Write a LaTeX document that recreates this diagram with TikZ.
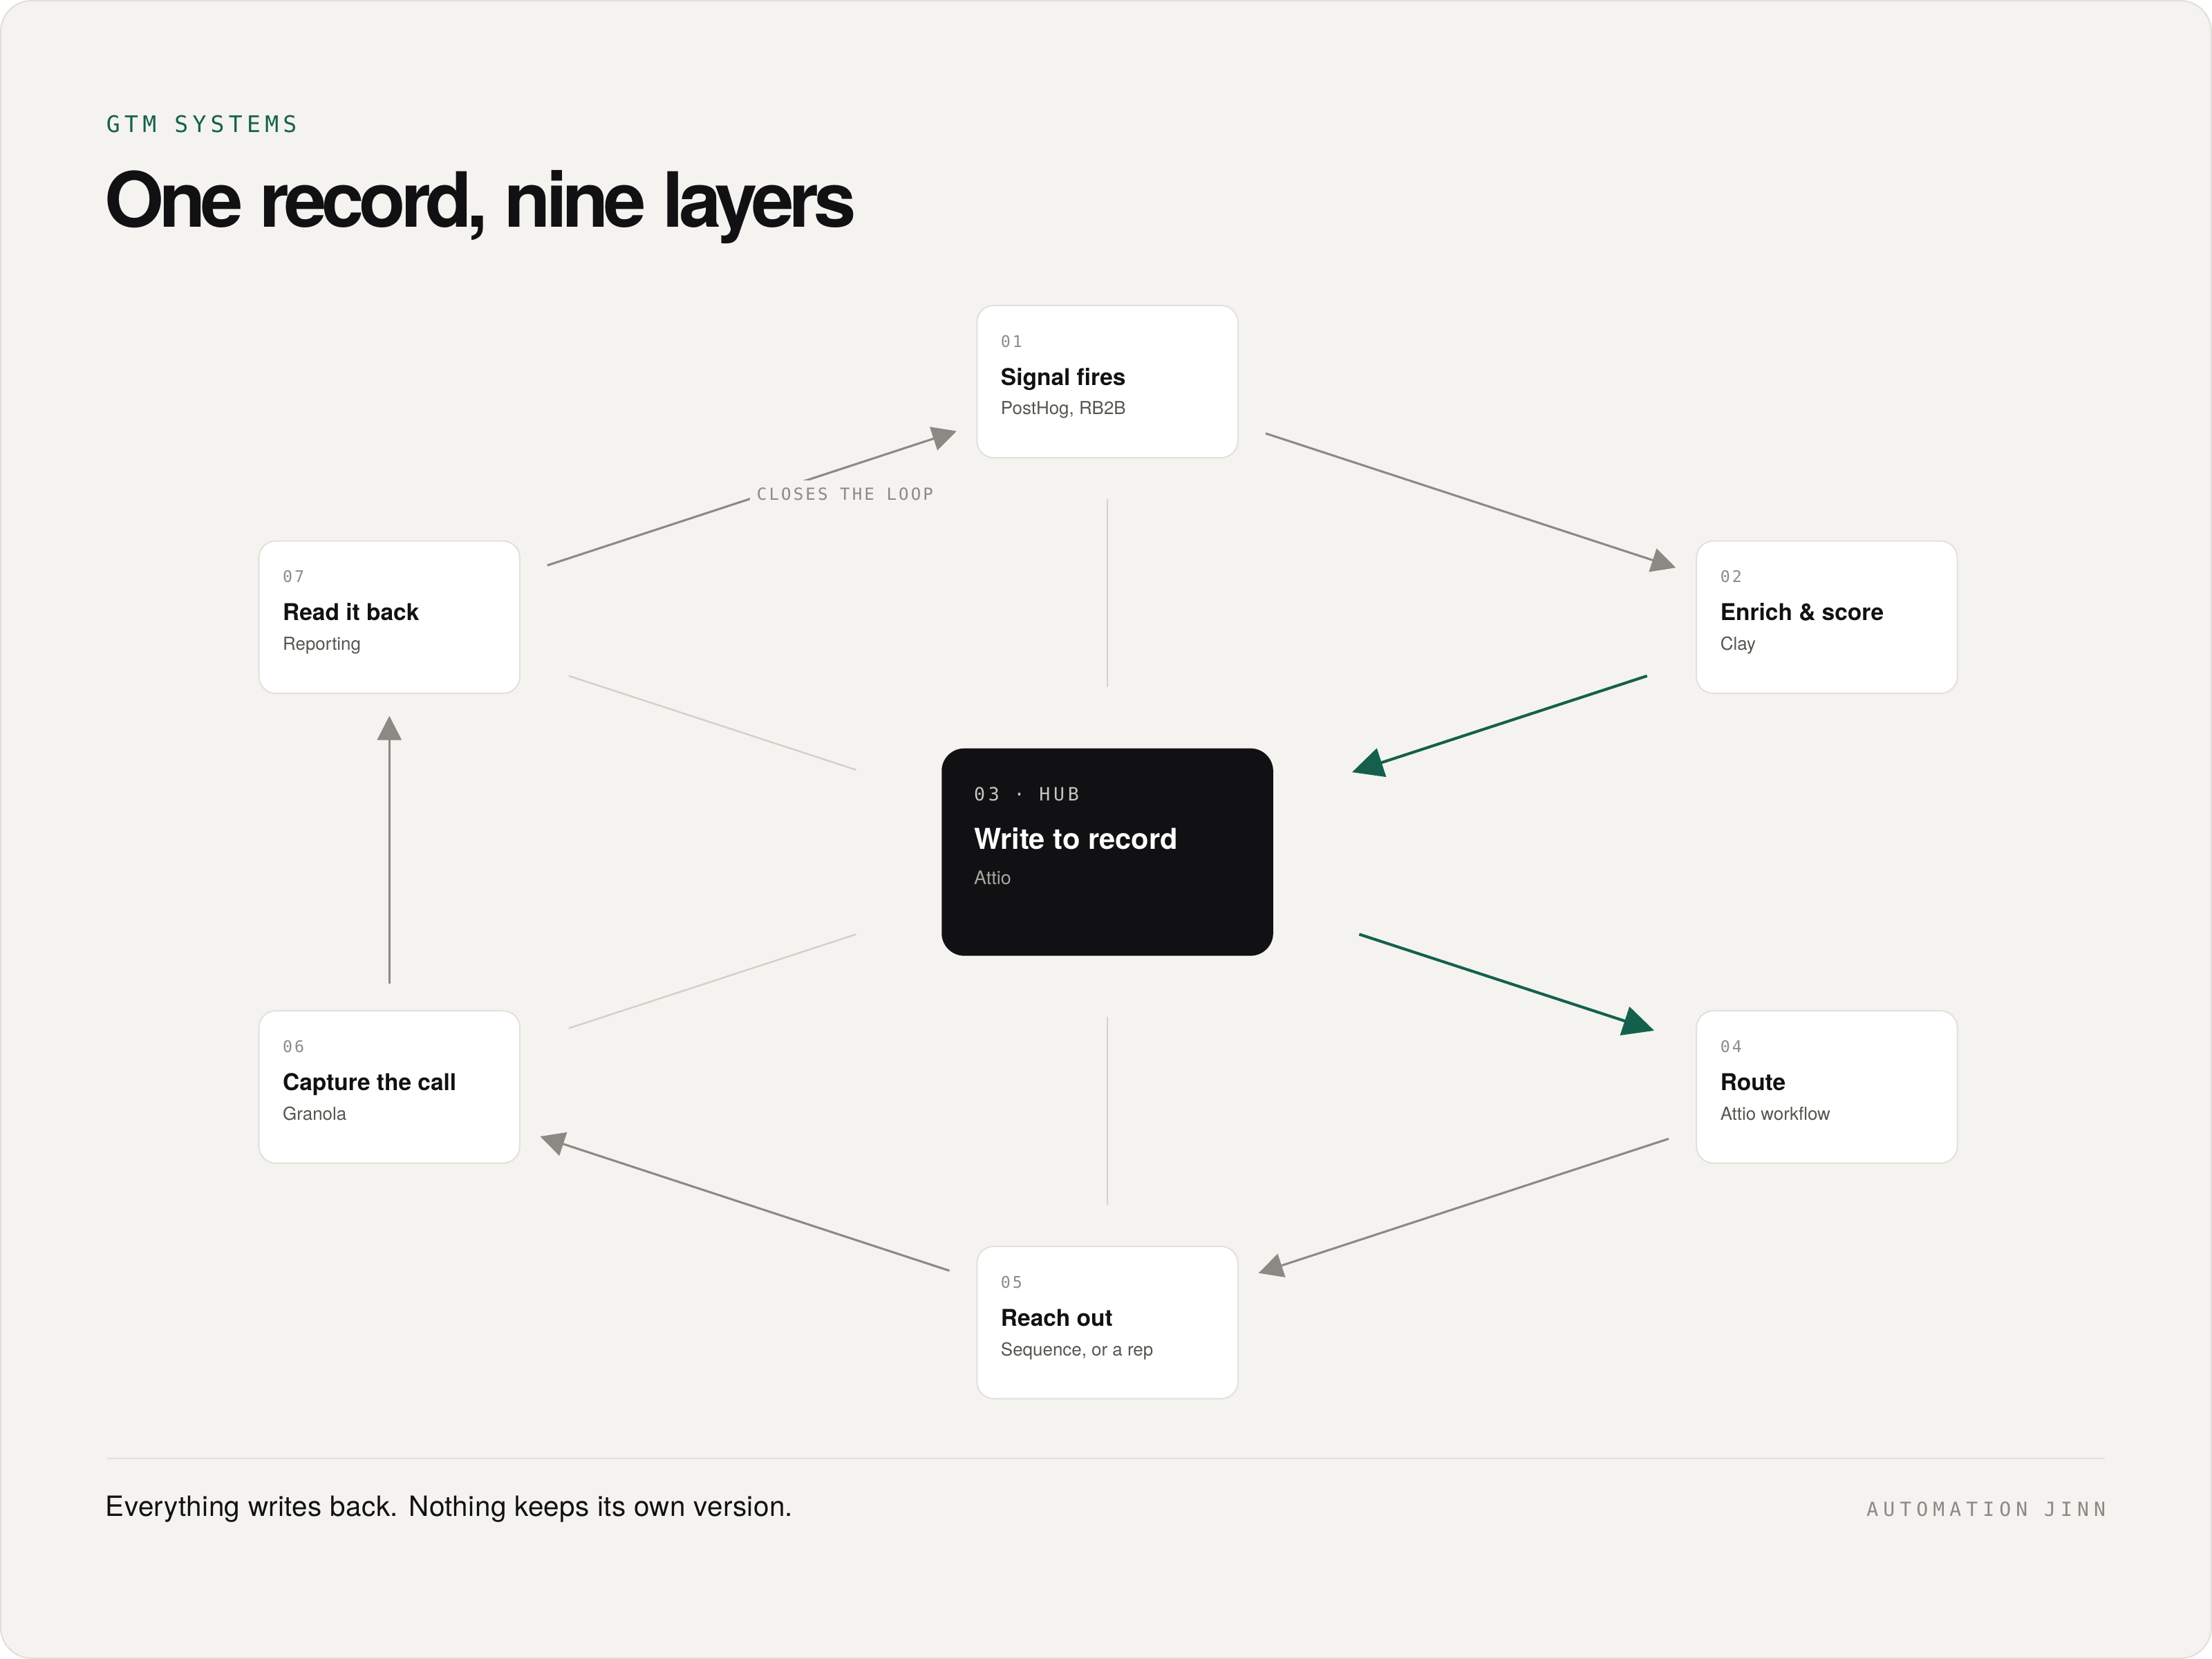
\documentclass[tikz,border=0pt]{standalone}
\usepackage{fontspec}
\setmainfont{TeX Gyre Heros}
\newfontfamily\titlefont[LetterSpace=-6.5]{TeX Gyre Heros}
\newfontfamily\bodyfont[LetterSpace=1]{TeX Gyre Heros}
\newfontfamily\monolab[LetterSpace=13]{DejaVu Sans Mono}
\newfontfamily\monohub[LetterSpace=18]{DejaVu Sans Mono}
\newfontfamily\monokick[LetterSpace=19]{DejaVu Sans Mono}
\newfontfamily\monofoot[LetterSpace=25]{DejaVu Sans Mono}
\usepackage{xcolor}
\usepackage{tikz}
\usetikzlibrary{shapes.multipart}
\usetikzlibrary{arrows.meta}
\usetikzlibrary{calc}

\definecolor{paper}{HTML}{F4F3EF}
\definecolor{frame}{HTML}{E0DFD9}
\definecolor{cardline}{HTML}{E3E1DB}
\definecolor{ink}{HTML}{111113}
\definecolor{subink}{HTML}{55554F}
\definecolor{numgrey}{HTML}{8C8B86}
\definecolor{flowgrey}{HTML}{8A8984}
\definecolor{spokegrey}{HTML}{D2D0C9}
\definecolor{gtmgreen}{HTML}{14604C}
\definecolor{hubfill}{HTML}{111113}
\definecolor{hubnum}{HTML}{C6C6C1}
\definecolor{hubsub}{HTML}{A6A6A1}

\newcommand{\numfont}{\monolab\fontsize{5.7pt}{7pt}\selectfont\color{numgrey}}
\newcommand{\headfont}{\fontsize{8.2pt}{10pt}\selectfont\bfseries\color{ink}}
\newcommand{\subfont}{\fontsize{6.35pt}{8pt}\selectfont\color{subink}}
\newcommand{\hubnumfont}{\monohub\fontsize{6.5pt}{8pt}\selectfont\color{hubnum}}
\newcommand{\hubheadfont}{\fontsize{10.2pt}{12pt}\selectfont\bfseries\color{white}}
\newcommand{\hubsubfont}{\fontsize{6.6pt}{8pt}\selectfont\color{hubsub}}

\begin{document}
\begin{tikzpicture}[x=0.5pt,y=-0.5pt,
    card/.style={rectangle split, rectangle split parts=3, rectangle split draw splits=false,
        draw=cardline, fill=white, line width=0.5pt, rounded corners=6pt,
        inner xsep=8.5pt, inner ysep=0pt, text width=75.5pt, align=flush left, anchor=north west},
    hub/.style={card, draw=none, fill=hubfill, rounded corners=8pt, inner xsep=11.5pt, text width=94.5pt},
    flow/.style={draw=flowgrey, line width=0.75pt, -{Triangle[length=8.6pt,width=8.6pt]}},
    hubflow/.style={draw=gtmgreen, line width=1pt, -{Triangle[length=11pt,width=10.5pt]}},
    spoke/.style={draw=spokegrey, line width=0.6pt},
    looplabel/.style={fill=paper, inner sep=2.5pt, text=flowgrey, font=\monolab\fontsize{5.9pt}{7pt}\selectfont}]
    \useasboundingbox (0,0) rectangle (1568,1176);
    \fill[white] (0,0) rectangle (1568,1176);
    \draw[draw=frame, fill=paper, line width=0.5pt, rounded corners=11pt] (0.5,0.5) rectangle (1567.5,1175.5);

    \node[anchor=base west, inner sep=0pt, text=gtmgreen] (kicker) at (75,94) {\monokick\fontsize{8.1pt}{10pt}\selectfont GTM SYSTEMS};
    \node[anchor=base west, inner sep=0pt, text=ink] (title) at (74,161) {\titlefont\bfseries\fontsize{27pt}{30pt}\selectfont One record, nine layers};

    \node[card] (n01) at (692,216) {\rule{0pt}{14.5pt}\smash{\numfont 01}
    \nodepart{two}\rule{0pt}{13pt}\smash{\headfont Signal fires}
    \nodepart{three}\rule[-15pt]{0pt}{25pt}\smash{\subfont PostHog, RB2B}};
    \node[card] (n02) at (1202,383) {\rule{0pt}{14.5pt}\smash{\numfont 02}
    \nodepart{two}\rule{0pt}{13pt}\smash{\headfont Enrich \& score}
    \nodepart{three}\rule[-15pt]{0pt}{25pt}\smash{\subfont Clay}};
    \node[card] (n04) at (1202,716) {\rule{0pt}{14.5pt}\smash{\numfont 04}
    \nodepart{two}\rule{0pt}{13pt}\smash{\headfont Route}
    \nodepart{three}\rule[-15pt]{0pt}{25pt}\smash{\subfont Attio workflow}};
    \node[card] (n05) at (692,883) {\rule{0pt}{14.5pt}\smash{\numfont 05}
    \nodepart{two}\rule{0pt}{13pt}\smash{\headfont Reach out}
    \nodepart{three}\rule[-15pt]{0pt}{25pt}\smash{\subfont Sequence, or a rep}};
    \node[card] (n06) at (183,716) {\rule{0pt}{14.5pt}\smash{\numfont 06}
    \nodepart{two}\rule{0pt}{13pt}\smash{\headfont Capture the call}
    \nodepart{three}\rule[-15pt]{0pt}{25pt}\smash{\subfont Granola}};
    \node[card] (n07) at (183,383) {\rule{0pt}{14.5pt}\smash{\numfont 07}
    \nodepart{two}\rule{0pt}{13pt}\smash{\headfont Read it back}
    \nodepart{three}\rule[-15pt]{0pt}{25pt}\smash{\subfont Reporting}};
    \node[hub] (hub) at (667,530) {\rule{0pt}{18.25pt}\smash{\hubnumfont 03 · HUB}
    \nodepart{two}\rule{0pt}{16.75pt}\smash{\hubheadfont Write to record}
    \nodepart{three}\rule[-25pt]{0pt}{37pt}\smash{\hubsubfont Attio}};

    \draw[spoke] ($(n01)!0.25!(hub)$) -- ($(n01)!0.65!(hub)$);
    \draw[spoke] ($(n05)!0.25!(hub)$) -- ($(n05)!0.65!(hub)$);
    \draw[spoke] ($(n06)!0.25!(hub)$) -- ($(n06)!0.65!(hub)$);
    \draw[spoke] ($(n07)!0.25!(hub)$) -- ($(n07)!0.65!(hub)$);

    \draw[flow] ($(n01)!0.22!(n02)$) -- ($(n01)!0.79!(n02)$);
    \draw[hubflow] ($(n02)!0.25!(hub)$) -- ($(n02)!0.66!(hub)$);
    \draw[hubflow] ($(hub)!0.35!(n04)$) -- ($(hub)!0.76!(n04)$);
    \draw[flow] ($(n04)!0.22!(n05)$) -- ($(n04)!0.79!(n05)$);
    \draw[flow] ($(n05)!0.22!(n06)$) -- ($(n05)!0.79!(n06)$);
    \draw[flow] ($(n06)!0.22!(n07)$) -- ($(n06)!0.79!(n07)$);
    \draw[flow] ($(n07)!0.22!(n01)$) -- ($(n07)!0.79!(n01)$);
    \node[looplabel] (loop) at (599,350) {CLOSES THE LOOP};

    \draw[draw=frame, line width=0.5pt] (76,1034) -- (1492,1034);
    \node[anchor=base west, inner sep=0pt, text=ink] (tagline) at (74.5,1075) {\bodyfont\fontsize{9.9pt}{11pt}\selectfont Everything writes back. Nothing keeps its own version.};
    \node[anchor=base east, inner sep=0pt, text=flowgrey] (brand) at (1493,1075) {\monofoot\fontsize{6.9pt}{8pt}\selectfont AUTOMATION JINN};
\end{tikzpicture}
\end{document}
